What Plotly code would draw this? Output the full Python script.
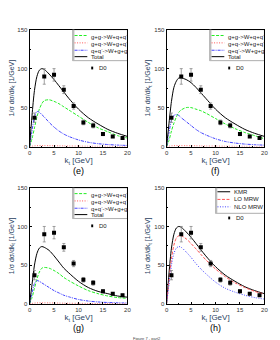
import plotly.graph_objects as go
from plotly.subplots import make_subplots

# ---------------- data ----------------
k_grid = [0, 0.5, 1, 1.5, 2, 2.5, 3, 4, 5, 6, 7, 8, 10, 12, 14, 16, 18, 20]

# panel (e)
e_total = [0, 40, 72, 90, 98, 100, 99, 93, 86, 78, 70, 62, 48, 37, 29, 22, 17, 13]
e_gg    = [0, 10, 24, 38, 48, 55, 59, 60, 58, 55, 51, 47, 39, 31, 24, 19, 14, 11]
e_gq    = [0, 0.4, 0.8, 1.0, 1.1, 1.1, 1.1, 1.0, 0.9, 0.8, 0.7, 0.6, 0.5, 0.4, 0.3, 0.3, 0.2, 0.2]
e_qq    = [0, 20, 38, 45, 44, 41, 38, 31, 25, 20, 16, 13, 8.5, 5.5, 3.7, 2.6, 1.9, 1.4]

# panel (f)
f_total = [0, 30, 58, 76, 84, 88, 88, 86, 82, 76, 69, 62, 48, 37, 29, 22, 17, 13]
f_gg    = [0, 8, 20, 30, 38, 44, 47, 50, 50, 48, 46, 43, 36, 29, 23, 18, 14, 10]
f_gq    = [0, 0.4, 0.8, 1.0, 1.1, 1.1, 1.1, 1.0, 0.9, 0.8, 0.7, 0.6, 0.5, 0.4, 0.3, 0.3, 0.2, 0.2]
f_qq    = [0, 18, 34, 40, 41, 40, 37, 32, 27, 22, 18, 15, 10, 6.5, 4.5, 3.2, 2.4, 1.8]

# panel (g)
g_total = [0, 25, 50, 65, 72, 74, 73, 69, 62, 54, 46, 40, 29, 21, 16, 13, 10, 8.5]
g_gg    = [0, 8, 20, 32, 41, 46, 47, 46, 43, 39, 34, 30, 23, 17, 13, 10, 8, 7]
g_gq    = [0, 0.4, 0.8, 1.0, 1.1, 1.1, 1.1, 1.0, 0.9, 0.8, 0.7, 0.6, 0.5, 0.4, 0.3, 0.3, 0.2, 0.2]
g_qq    = [0, 14, 26, 30, 29, 27, 25, 21, 17, 14, 11, 9, 5.5, 3.5, 2.3, 1.6, 1.2, 0.9]

# panel (h)
h_kmr   = [0, 40, 72, 90, 98, 100, 99, 93, 86, 78, 70, 62, 48, 37, 29, 22, 17, 13]
h_lo    = [0, 30, 58, 76, 85, 88, 88, 84, 78, 71, 64, 57, 45, 35, 27, 21, 16, 12.5]
h_nlo   = [0, 25, 50, 65, 72, 74, 73, 67, 60, 52, 45, 39, 28, 20, 15, 11, 8, 6]

# D0 data
d0_k   = [1, 3, 5, 7, 9, 11, 13, 15, 17, 19]
d0_val = [37, 90, 92, 73, 52, 31, 27, 16, 13, 11]
d0_err = [6, 10, 8, 5, 4, 3, 3, 2, 1.5, 1.5]

x_ticks = [0, 5, 10, 15, 20]
y_ticks = [0, 50, 100, 150]
panel_labels = ["(e)", "(f)", "(g)", "(h)"]
leg_proc = ["g+g->W+q+q<sup>-</sup>", "g+q->W+g+q<sup>-</sup>", "q+q<sup>-</sup>->W+g+g", "Total"]
leg_h = ["KMR", "LO MRW", "NLO MRW"]

FONT = "Liberation Sans, Arial, sans-serif"
GREEN, RED, BLUE, BLACK = "#22ee22", "#ff5555", "#4444ff", "#000000"
DASH = "3px,1.5px"
DOT = "1px,1.5px"
DASHDOT = "3px,1px,1px,1px"

fig = make_subplots(rows=2, cols=2)

panels = [
    (1, 1, [(e_gg, GREEN, DASH), (e_gq, RED, DOT), (e_qq, BLUE, DASHDOT), (e_total, BLACK, "solid")]),
    (1, 2, [(f_gg, GREEN, DASH), (f_gq, RED, DOT), (f_qq, BLUE, DASHDOT), (f_total, BLACK, "solid")]),
    (2, 1, [(g_gg, GREEN, DASH), (g_gq, RED, DOT), (g_qq, BLUE, DASHDOT), (g_total, BLACK, "solid")]),
    (2, 2, [(h_kmr, BLACK, "solid"), (h_lo, RED, DASH), (h_nlo, BLUE, DOT)]),
]

for r, c, curves in panels:
    for ys, col, dash in curves:
        fig.add_trace(go.Scatter(x=k_grid, y=ys, mode="lines",
                                 line=dict(color=col, dash=dash, width=1, shape="spline", smoothing=0.8),
                                 showlegend=False, hoverinfo="skip"), row=r, col=c)
    fig.add_trace(go.Scatter(x=d0_k, y=d0_val, mode="markers",
                             marker=dict(symbol="square", size=4, color="black"),
                             error_y=dict(type="data", array=d0_err, color="#888888", thickness=0.8, width=1.5),
                             showlegend=False, hoverinfo="skip"), row=r, col=c)

# domains (pixel-derived)
xd = [(20/280, 120/280), (160/280, 260/280)]
yd = [(1-138/340, 1-19/340), (1-298/340, 1-180/340)]
axis_common = dict(showline=True, linecolor="black", linewidth=1, mirror=True,
                   ticks="inside", ticklen=2, tickcolor="black", showgrid=False, zeroline=False,
                   tickfont=dict(family=FONT, size=6, color="#333333"))
for i in range(4):
    r, c = divmod(i, 2)
    sfx = "" if i == 0 else str(i + 1)
    fig.layout["xaxis" + sfx].update(domain=xd[c], range=[0, 20], tickvals=x_ticks,
                                    minor=dict(dtick=2.5, ticks="inside", ticklen=1, tickcolor="black"),
                                    title=dict(text="k<sub>t</sub> [GeV]", font=dict(family=FONT, size=8), standoff=2),
                                    **axis_common)
    fig.layout["yaxis" + sfx].update(domain=yd[r], range=[0, 150], tickvals=y_ticks,
                                    minor=dict(dtick=25, ticks="inside", ticklen=1, tickcolor="black"),
                                    title=dict(text="1/σ dσ/dk<sub>t</sub> [1/GeV]", font=dict(family=FONT, size=7), standoff=2),
                                    **axis_common)
    fig.add_annotation(text=panel_labels[i], xref="paper", yref="paper",
                       x=(xd[c][0] + xd[c][1]) / 2, y=yd[r][0] - 25/340, xanchor="center", yanchor="middle",
                       showarrow=False, font=dict(family=FONT, size=9, color="black"))

# legends (drawn as shapes + text in axis-domain coordinates)
def legend(i, labels, styles, box_left, box_bottom, rows, d0_y):
    sfx = "" if i == 0 else str(i + 1)
    xr, yr = "x" + sfx + " domain", "y" + sfx + " domain"
    fig.add_shape(type="rect", xref=xr, yref=yr, x0=box_left, x1=1, y0=box_bottom, y1=1,
                  line=dict(color="#999999", width=0.8), fillcolor="white", layer="below")
    fig.add_shape(type="line", xref=xr, yref=yr, x0=box_left + 0.008, x1=box_left + 0.008, y0=box_bottom, y1=1,
                  line=dict(color="#bbbbbb", width=2))
    for lab, (col, dash), yy in zip(labels, styles, rows):
        fig.add_shape(type="line", xref=xr, yref=yr, x0=box_left + 0.02, x1=box_left + 0.15, y0=yy, y1=yy,
                      line=dict(color=col, dash=dash, width=1))
        fig.add_annotation(text=lab, xref=xr, yref=yr, x=box_left + 0.17, y=yy, xanchor="left", yanchor="middle",
                           showarrow=False, font=dict(family=FONT, size=6, color="#222222"))
    fig.add_shape(type="rect", xref=xr, yref=yr, x0=0.63, x1=0.65, y0=d0_y - 0.012, y1=d0_y + 0.012,
                  fillcolor="black", line=dict(width=0))
    fig.add_annotation(text="D0", xref=xr, yref=yr, x=0.69, y=d0_y, xanchor="left", yanchor="middle",
                       showarrow=False, font=dict(family=FONT, size=6, color="#222222"))

proc_styles = [(GREEN, DASH), (RED, DOT), (BLUE, DASHDOT), (BLACK, "solid")]
for i in range(3):
    legend(i, leg_proc, proc_styles, 0.44, 0.735, [0.95, 0.887, 0.824, 0.769], 0.672)
legend(3, leg_h, [(BLACK, "solid"), (RED, DASH), (BLUE, DOT)], 0.50, 0.78, [0.966, 0.90, 0.836], 0.74)

fig.add_annotation(text="Figure 7 - part2", xref="paper", yref="paper", x=0.5, y=1-333/340,
                   xanchor="center", yanchor="middle", showarrow=False,
                   font=dict(family=FONT, size=4, color="#444444"))

fig.update_layout(width=280, height=340, margin=dict(l=0, r=0, t=0, b=0),
                  paper_bgcolor="white", plot_bgcolor="white", showlegend=False)
fig.write_html("out.html")
